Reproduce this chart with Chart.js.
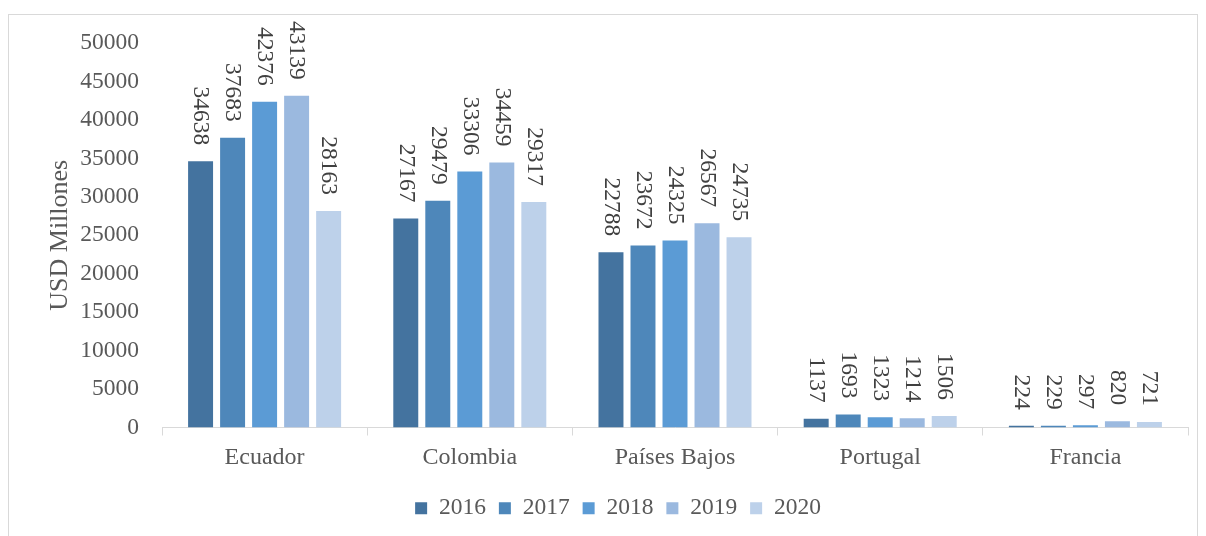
<!DOCTYPE html>
<html><head><meta charset="utf-8">
<script src="https://cdn.jsdelivr.net/npm/chart.js@4/dist/chart.umd.min.js"></script>
<style>html,body{margin:0;padding:0;background:#fff;}#wrap{width:1206px;height:536px;position:relative;}</style>
</head><body><div id="wrap"><canvas id="c" width="1206" height="536"></canvas></div>
<script>
const categories = ['Ecuador', 'Colombia', 'Países Bajos', 'Portugal', 'Francia'];
const years = ['2016', '2017', '2018', '2019', '2020'];
const v2016 = [34638, 27167, 22788, 1137, 224];
const v2017 = [37683, 29479, 23672, 1693, 229];
const v2018 = [42376, 33306, 24325, 1323, 297];
const v2019 = [43139, 34459, 26567, 1214, 820];
const v2020 = [28163, 29317, 24735, 1506, 721];
const yTicks = [0, 5000, 10000, 15000, 20000, 25000, 30000, 35000, 40000, 45000, 50000];
const colors = ['#44739f', '#4e87ba', '#5b9bd5', '#9bb9df', '#bdd1ea'];
const series = [v2016, v2017, v2018, v2019, v2020];
const FONT = "'Liberation Serif', 'Times New Roman', serif";
const TXT = '#595959';

const frame = {
  id: 'frame',
  beforeDraw(chart) {
    const ctx = chart.ctx;
    ctx.save();
    ctx.strokeStyle = '#d9d9d9';
    ctx.lineWidth = 1;
    ctx.strokeRect(8.5, 14.5, 1189, 540);
    ctx.restore();
  }
};
const labels = {
  id: 'vlabels',
  afterDatasetsDraw(chart) {
    const ctx = chart.ctx;
    ctx.save();
    ctx.font = '23.5px ' + FONT;
    ctx.fillStyle = '#404040';
    ctx.textAlign = 'right';
    ctx.textBaseline = 'middle';
    chart.data.datasets.forEach((ds, i) => {
      chart.getDatasetMeta(i).data.forEach((bar, j) => {
        ctx.save();
        ctx.translate(bar.x, bar.y - 16);
        ctx.rotate(Math.PI / 2);
        ctx.fillText(String(ds.data[j]), 0, 0);
        ctx.restore();
      });
    });
    ctx.restore();
  }
};

new Chart(document.getElementById('c'), {
  type: 'bar',
  data: {
    labels: categories,
    datasets: years.map((y, i) => ({ label: y, data: series[i], backgroundColor: colors[i], borderWidth: 0 }))
  },
  options: {
    responsive: false,
    animation: false,
    devicePixelRatio: 1,
    categoryPercentage: 0.78,
    barPercentage: 0.78,
    layout: { padding: { left: 48, top: 43, right: 18, bottom: 6 } },
    plugins: {
      legend: {
        position: 'bottom',
        labels: { font: { family: FONT, size: 23.5 }, color: TXT, boxWidth: 12, boxHeight: 12, padding: 13 }
      },
      tooltip: { enabled: false }
    },
    scales: {
      y: {
        min: 0, max: 50000,
        afterFit(s) { s.width = 114; },
        afterBuildTicks(s) { s.ticks = yTicks.map(v => ({ value: v })); },
        ticks: { font: { family: FONT, size: 23.5 }, color: TXT, padding: 23, callback: v => String(v) },
        grid: { display: false, drawTicks: false },
        border: { display: false },
        title: { display: true, text: 'USD Millones', font: { family: FONT, size: 26, lineHeight: 1 }, color: TXT, padding: { top: -1, bottom: 0 } }
      },
      x: {
        afterFit(s) { s.height = 56; },
        ticks: { font: { family: FONT, size: 24 }, color: TXT, padding: 8 },
        grid: { offset: true, drawOnChartArea: false, drawTicks: true, tickLength: 8, color: '#d9d9d9' },
        border: { display: true, color: '#d9d9d9' }
      }
    }
  },
  plugins: [frame, labels]
});
</script></body></html>
